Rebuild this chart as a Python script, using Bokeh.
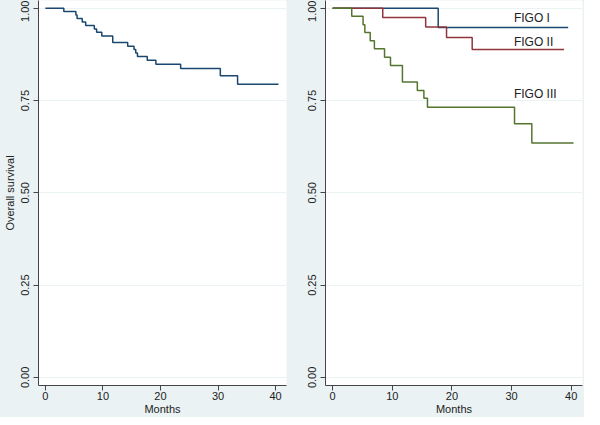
from bokeh.plotting import figure
from bokeh.layouts import row
from bokeh.models import FixedTicker, Range1d, NumeralTickFormatter
from bokeh.embed import file_html
from bokeh.resources import INLINE
from bokeh.core.properties import value
import math

# Overall survival (left panel)
all_t = [0, 3.2, 5.3, 5.5, 6.4, 7.0, 8.5, 8.9, 9.8, 11.7, 14.3, 15.4, 15.7, 16.0, 17.7, 19.2, 23.5, 30.4, 33.4, 40.5]
all_s = [1.0, 0.991, 0.982, 0.972, 0.963, 0.953, 0.944, 0.935, 0.925, 0.907, 0.897, 0.888, 0.879, 0.869, 0.859, 0.848, 0.837, 0.817, 0.794, 0.794]

# By FIGO stage (right panel)
figo1_t = [0, 17.7, 39.5]
figo1_s = [1.0, 0.948, 0.948]
figo2_t = [0, 8.4, 15.6, 19.1, 23.4, 38.8]
figo2_s = [1.0, 0.975, 0.949, 0.921, 0.888, 0.888]
figo3_t = [0, 3.2, 5.1, 5.4, 6.3, 7.0, 8.7, 9.7, 11.7, 14.2, 15.3, 15.9, 30.5, 33.4, 40.4]
figo3_s = [1.0, 0.978, 0.955, 0.934, 0.912, 0.890, 0.867, 0.845, 0.800, 0.777, 0.756, 0.732, 0.687, 0.635, 0.635]

labels = ["FIGO I", "FIGO II", "FIGO III"]
label_x = [30.4, 30.4, 30.4]
label_y = [0.973, 0.908, 0.768]

x_ticks = [0, 10, 20, 30, 40]
y_ticks = [0, 0.25, 0.5, 0.75, 1.0]

BG = "#EAF2F3"
FONT = "Liberation Sans"
AXC = "#444444"


def make_fig(width, left_border, right_border, ylabel):
    p = figure(width=width, height=417, output_backend="svg", toolbar_location=None,
               x_range=Range1d(-1.2, 41.9), y_range=Range1d(-0.022, 1.021),
               min_border_left=left_border, min_border_right=right_border, min_border_top=0,
               min_border_bottom=0)
    p.border_fill_color = BG
    p.background_fill_color = "white"
    p.outline_line_color = None
    p.xgrid.visible = False
    p.ygrid.grid_line_color = BG
    p.ygrid.grid_line_width = 1
    p.xaxis.ticker = FixedTicker(ticks=x_ticks)
    p.yaxis.ticker = FixedTicker(ticks=y_ticks)
    p.yaxis.formatter = NumeralTickFormatter(format="0.00")
    p.yaxis.major_label_orientation = "vertical"
    for ax in (p.xaxis[0], p.yaxis[0]):
        ax.axis_line_color = AXC
        ax.major_tick_line_color = AXC
        ax.major_tick_out = 5
        ax.major_tick_in = 0
        ax.minor_tick_line_color = None
        ax.major_label_text_font = FONT
        ax.major_label_text_font_size = "11px"
        ax.major_label_text_color = "#222222"
        ax.axis_label_text_font = FONT
        ax.axis_label_text_font_size = "11px"
        ax.axis_label_text_font_style = "normal"
        ax.axis_label_text_color = "#222222"
    p.xaxis.major_label_standoff = 1
    p.xaxis.axis_label_standoff = 0
    p.yaxis.major_label_standoff = 4
    p.yaxis.axis_label_standoff = 3
    p.xaxis.axis_label = "Months"
    if ylabel:
        p.yaxis.axis_label = ylabel
    return p


p1 = make_fig(292, 30, 6, "Overall survival")
p1.step(all_t, all_s, mode="after", line_color="#1a476f", line_width=1.5)

p2 = make_fig(292, 33, 2, None)
p2.min_border_left = 33
p2.step(figo1_t, figo1_s, mode="after", line_color="#1a476f", line_width=1.5)
p2.step(figo2_t, figo2_s, mode="after", line_color="#90353b", line_width=1.5)
p2.step(figo3_t, figo3_s, mode="after", line_color="#55752f", line_width=1.5)
p2.text(x=label_x, y=label_y, text=labels, text_font=value(FONT), text_font_size="12px",
        text_baseline="middle", text_align="left", text_color="#222222")

layout = row(p1, p2, spacing=0, styles={"background-color": BG})
open("out.html", "w").write(file_html(layout, INLINE))
